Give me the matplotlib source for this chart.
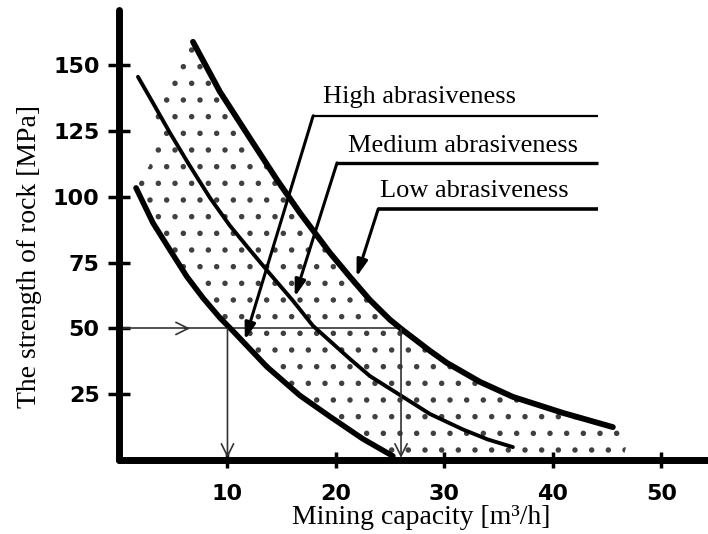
"""Rock strength vs. mining capacity for three abrasiveness classes."""

import matplotlib

matplotlib.use("Agg")
import matplotlib.pyplot as plt

# curves: mining capacity [m3/h] -> rock strength [MPa]
low_x = [6.82, 9.31, 12.35, 14.56, 16.68, 19.45, 21.29, 23.13, 24.98, 26.18,
         28.66, 30.23, 33.27, 36.31, 40.92, 45.53]
low_y = [158.9, 139.9, 120.5, 106.5, 93.9, 78.7, 69.6, 60.8, 53.3, 49.3,
         41.5, 36.9, 29.7, 24.0, 17.9, 12.5]

medium_x = [1.75, 3.13, 4.70, 6.36, 8.39, 10.23, 12.07, 13.92, 16.04, 17.88,
            19.45, 21.29, 23.13, 25.90, 28.66, 31.71, 34.0, 36.31]
medium_y = [145.6, 135.7, 124.3, 112.9, 99.6, 89.0, 79.8, 70.7, 60.5, 51.0,
            45.2, 38.4, 31.9, 24.7, 17.5, 11.6, 7.8, 4.9]

high_x = [1.57, 3.13, 4.70, 6.27, 7.74, 9.31, 10.51, 12.07, 13.64, 16.68,
          19.45, 22.49, 25.25]
high_y = [103.4, 90.1, 79.8, 69.6, 61.6, 54.0, 49.0, 42.2, 35.4, 24.5,
          16.5, 8.0, 1.5]

# outline of the stippled band (upper edge past the low curve, left edge)
band_tail_x = [47.0, 46.5]
band_tail_y = [9.0, 1.0]
band_left_x = [2.8, 3.4, 4.6, 5.8]
band_left_y = [112.0, 132.0, 146.0, 154.0]

# worked example: 50 MPa -> 10 .. 26 m3/h
example_strength = 50
example_capacity = [10, 26]
example_arrow_x = 6.8

# label leaders: text, underline start, arrow tip
labels = ["High abrasiveness", "Medium abrasiveness", "Low abrasiveness"]
label_x = [18.8, 21.1, 24.05]
label_y = [135.7, 117.1, 100.0]
leader_start_x = [17.9, 20.1, 23.9]
leader_start_y = [130.8, 112.9, 95.4]
leader_tip_x = [11.6, 16.2, 21.9]
leader_tip_y = [45.6, 62.0, 69.6]
leader_end_x = 44.15
leader_width = [1.6, 2.4, 2.6]

x_ticks = [10, 20, 30, 40, 50]
y_ticks = [25, 50, 75, 100, 125, 150]

SERIF = "Liberation Serif"
plt.rcParams["hatch.linewidth"] = 1.5

fig = plt.figure(figsize=(7.08, 5.34), dpi=100)
ax = fig.add_axes([119 / 708, 1 - 460 / 534, 1 - 119 / 708, 450 / 534])
ax.set_xlim(0, 54.3)
ax.set_ylim(0, 171)

band_x = low_x + band_tail_x + high_x[::-1] + band_left_x
band_y = low_y + band_tail_y + high_y[::-1] + band_left_y
ax.fill(band_x, band_y, facecolor="none", edgecolor="#404040", hatch=".",
        linewidth=0, zorder=1)

curve = dict(color="black", solid_capstyle="round", solid_joinstyle="round",
             zorder=3)
ax.plot(low_x, low_y, lw=4.2, **curve)
ax.plot(medium_x, medium_y, lw=2.8, **curve)
ax.plot(high_x, high_y, lw=4.0, **curve)

guide = dict(color="#333333", lw=1.2)
ax.plot([0, example_capacity[1]], [example_strength, example_strength], **guide)
ax.annotate("", xy=(example_arrow_x, example_strength),
            xytext=(example_arrow_x - 1, example_strength),
            arrowprops=dict(arrowstyle="->", color="#333333", lw=1.2,
                            mutation_scale=22))
for cap in example_capacity:
    ax.annotate("", xy=(cap, 0.8), xytext=(cap, example_strength),
                arrowprops=dict(arrowstyle="->", color="#333333", lw=1.2,
                                mutation_scale=22, shrinkA=0, shrinkB=0))

for i, text in enumerate(labels):
    ax.text(label_x[i], label_y[i], text, family=SERIF, fontsize=19,
            ha="left", va="baseline")
    ax.plot([leader_start_x[i], leader_end_x], [leader_start_y[i]] * 2,
            color="black", lw=leader_width[i], solid_capstyle="butt")
    ax.annotate("", xy=(leader_tip_x[i], leader_tip_y[i]),
                xytext=(leader_start_x[i], leader_start_y[i]),
                arrowprops=dict(arrowstyle="-|>,head_length=0.5,head_width=0.16",
                                color="black", lw=2.2, mutation_scale=20,
                                shrinkA=0, shrinkB=0))

for side in ["top", "right"]:
    ax.spines[side].set_visible(False)
for side in ["left", "bottom"]:
    ax.spines[side].set_linewidth(5)
    ax.spines[side].set_capstyle("round")

ax.set_xticks(x_ticks)
ax.set_yticks(y_ticks)
ax.tick_params(axis="y", direction="inout", length=16, width=2.5, pad=6)
ax.tick_params(axis="x", direction="inout", length=11, width=2.5, pad=12)
for lab in ax.get_xticklabels() + ax.get_yticklabels():
    lab.set_fontweight("bold")
    lab.set_fontsize(16)

fig.text(421 / 708, 1 - 518 / 534, "Mining capacity [m³/h]", family=SERIF,
         fontsize=20, ha="center", va="center")
fig.text(30 / 708, 1 - 256 / 534, "The strength of rock [MPa]", family=SERIF,
         fontsize=20, ha="center", va="center", rotation=90)

fig.savefig("out.png", dpi=100)
